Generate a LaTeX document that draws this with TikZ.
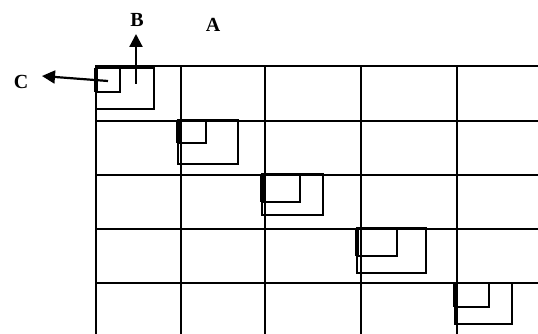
\documentclass[tikz,border=0pt]{standalone}
\usepackage{fontspec}
\setmainfont{Liberation Serif}
\usetikzlibrary{arrows.meta}
\tikzset{
  gridline/.style={line width=2.2pt, line cap=rect},
  boxline/.style={line width=1.8pt},
  edgeline/.style={line width=3.6pt},
  lbl/.style={font=\fontsize{20}{20}\selectfont\bfseries, inner sep=0pt},
  arr/.style={line width=2.2pt, -{Triangle[length=13pt,width=13pt]}}
}
\begin{document}
\begin{tikzpicture}[x=1pt,y=-1pt]
\useasboundingbox (0,0) rectangle (538,334);
% grid
\foreach \yy in {66,121,175,229,283} \draw[gridline] (96,\yy) -- (538,\yy);
\foreach \xx in {96,181,265,361,457} \draw[gridline] (\xx,66) -- (\xx,334);
% boxes: outer, inner, thick left edge
\foreach \ax/\ay/\bx/\by/\cx/\cy in {96/68/154/109/120/92, 178/120/238/164/206/143, 262/174/323/215/300/202, 357/228/426/273/397/256, 455/283/512/324/489/307}{
  \draw[boxline] (\ax,\ay) rectangle (\bx,\by);
  \draw[boxline] (\ax,\ay) rectangle (\cx,\cy);
  \draw[edgeline] (\ax,\ay) -- (\ax,\cy);
}
% labels
\node[lbl] (A) at (213,25) {A};
\node[lbl] (B) at (137,20) {B};
\node[lbl] (C) at (21,82) {C};
\coordinate (bs) at (136,84);
\coordinate (bt) at (136,34);
\coordinate (cs) at (108,81);
\coordinate (ct) at (42,76);
\draw[arr] (bs) -- (bt);
\draw[arr] (cs) -- (ct);
\end{tikzpicture}
\end{document}
